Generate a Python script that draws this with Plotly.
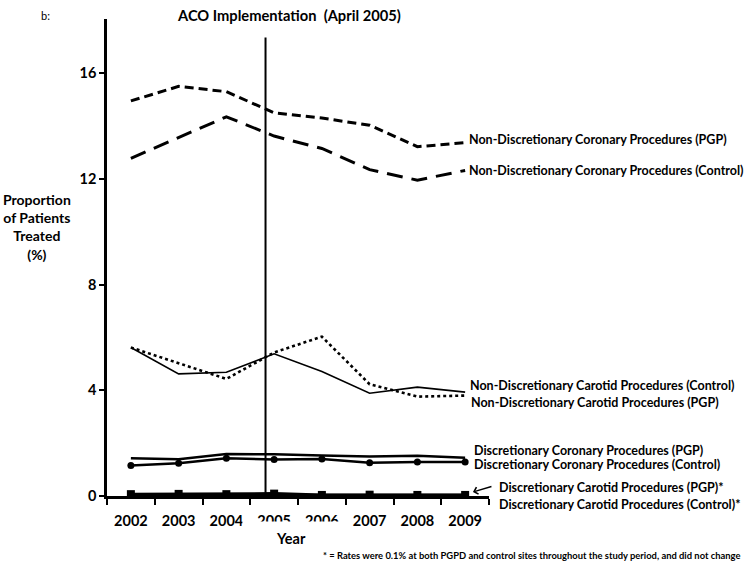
import plotly.graph_objects as go

years = ["2002", "2003", "2004", "2005", "2006", "2007", "2008", "2009"]

nd_coronary_pgp = [14.95, 15.5, 15.3, 14.5, 14.3, 14.03, 13.22, 13.37]
nd_coronary_ctrl = [12.78, 13.55, 14.35, 13.62, 13.15, 12.35, 11.95, 12.32]
nd_carotid_ctrl = [5.62, 4.62, 4.68, 5.38, 4.71, 3.89, 4.12, 3.93]
nd_carotid_pgp = [5.62, 5.03, 4.43, 5.43, 6.03, 4.23, 3.76, 3.80]
d_coronary_pgp = [1.43, 1.39, 1.59, 1.58, 1.53, 1.49, 1.52, 1.45]
d_coronary_ctrl = [1.15, 1.24, 1.43, 1.38, 1.40, 1.26, 1.29, 1.29]
d_carotid_pgp = [0.07, 0.08, 0.07, 0.09, 0.04, 0.05, 0.04, 0.04]
d_carotid_ctrl = [0.03, 0.03, 0.03, 0.03, 0.03, 0.03, 0.03, 0.03]

aco_x = 2.82  # April 2005 position on the category axis
y_max = 18.05
y_ticks = [0, 4, 8, 12, 16]

labels = [
    ("Non-Discretionary Coronary Procedures (PGP)", 0.942, 13.48),
    ("Non-Discretionary Coronary Procedures (Control)", 0.942, 12.3),
    ("Non-Discretionary Carotid Procedures (Control)", 0.945, 4.2),
    ("Non-Discretionary Carotid Procedures (PGP)", 0.947, 3.52),
    ("Discretionary Coronary Procedures (PGP)", 0.955, 1.72),
    ("Discretionary Coronary Procedures (Control)", 0.955, 1.19),
    ("Discretionary Carotid Procedures (PGP)*", 1.02, 0.34),
    ("Discretionary Carotid Procedures (Control)*", 1.02, -0.32),
]

FONT = "Lato"
fig = go.Figure()

fig.add_trace(go.Scatter(x=years, y=nd_coronary_pgp, mode="lines",
                         line=dict(color="black", width=3, dash="9px,5px")))
fig.add_trace(go.Scatter(x=years, y=nd_coronary_ctrl, mode="lines",
                         line=dict(color="black", width=3, dash="16px,9px")))
fig.add_trace(go.Scatter(x=years, y=nd_carotid_ctrl, mode="lines",
                         line=dict(color="black", width=1.6)))
fig.add_trace(go.Scatter(x=years, y=nd_carotid_pgp, mode="lines",
                         line=dict(color="black", width=2.6, dash="3px,3px")))
fig.add_trace(go.Scatter(x=years, y=d_coronary_pgp, mode="lines",
                         line=dict(color="black", width=2.5)))
fig.add_trace(go.Scatter(x=years, y=d_coronary_ctrl, mode="lines+markers",
                         line=dict(color="black", width=2.5),
                         marker=dict(symbol="circle", size=7, color="black")))
fig.add_trace(go.Scatter(x=years, y=d_carotid_ctrl, mode="lines",
                         line=dict(color="black", width=3)))
fig.add_trace(go.Scatter(x=years, y=d_carotid_pgp, mode="lines+markers",
                         line=dict(color="black", width=3),
                         marker=dict(symbol="square", size=8, color="black")))

fig.add_shape(type="line", xref="x", yref="y", x0=aco_x, x1=aco_x, y0=-0.15, y1=17.35,
              line=dict(color="black", width=2))

annotations = []
for text, x, y in labels:
    annotations.append(dict(text="<b>" + text + "</b>", xref="paper", yref="paper",
                            x=x, y=y / y_max,
                            xanchor="left", yanchor="middle", showarrow=False,
                            font=dict(family=FONT, size=12.5, color="black")))

annotations.append(dict(text="", xref="paper", yref="y", x=0.958, y=0.15,
                        ax=20, ay=-6, axref="pixel", ayref="pixel",
                        showarrow=True, arrowhead=4, arrowsize=1, arrowwidth=1.4,
                        arrowcolor="black"))

annotations += [
    dict(text="<b>ACO Implementation\u00a0 (April 2005)</b>", xref="paper", yref="paper",
         x=0.476, y=1.0084, xanchor="center", yanchor="middle", showarrow=False,
         font=dict(family=FONT, size=14.7, color="black")),
    dict(text="b:", xref="paper", yref="paper", x=-0.162, y=1.008, xanchor="center",
         yanchor="middle", showarrow=False, font=dict(family=FONT, size=11, color="black")),
    dict(text="<b>Proportion<br>of Patients<br>Treated<br>(%)</b>", xref="paper", yref="paper",
         x=-0.182, y=0.563, xanchor="center", yanchor="middle", showarrow=False,
         font=dict(family=FONT, size=14, color="black")),
    dict(text="<b>Year</b>", xref="paper", yref="paper", x=0.482, y=-0.088,
         xanchor="center", yanchor="middle", showarrow=False, bgcolor="white",
         width=96, height=32, borderpad=0,
         font=dict(family=FONT, size=14.5, color="black")),
    dict(text="<b>* = Rates were 0.1% at both PGPD and control sites throughout the study period, and did not change</b>",
         xref="paper", yref="paper", x=1.662, y=-0.124, xanchor="right", yanchor="middle",
         showarrow=False, font=dict(family=FONT, size=9.4, color="black")),
]

fig.update_layout(
    width=750, height=563,
    margin=dict(l=107, r=261, t=19, b=67),
    paper_bgcolor="white", plot_bgcolor="white",
    showlegend=False,
    annotations=annotations,
    font=dict(family=FONT, color="black"),
)
fig.update_xaxes(type="category", range=[-0.5, 7.5], tickson="boundaries",
                 ticks="outside", ticklen=6, tickwidth=2, tickcolor="black",
                 ticklabelstandoff=10,
                 showline=True, linecolor="black", linewidth=3,
                 showgrid=False, zeroline=False,
                 tickfont=dict(family=FONT, size=14.5, color="black", weight="bold"))
fig.update_yaxes(range=[0, y_max], tickvals=y_ticks, ticktext=[str(v) for v in y_ticks],
                 ticks="outside", ticklen=5, tickwidth=2, tickcolor="black",
                 showline=True, linecolor="black", linewidth=2.5,
                 showgrid=False, zeroline=False,
                 tickfont=dict(family=FONT, size=14.5, color="black", weight="bold"))

fig.write_html("out.html", config={"displayModeBar": False},
               post_script="document.body.style.margin='0px';")
